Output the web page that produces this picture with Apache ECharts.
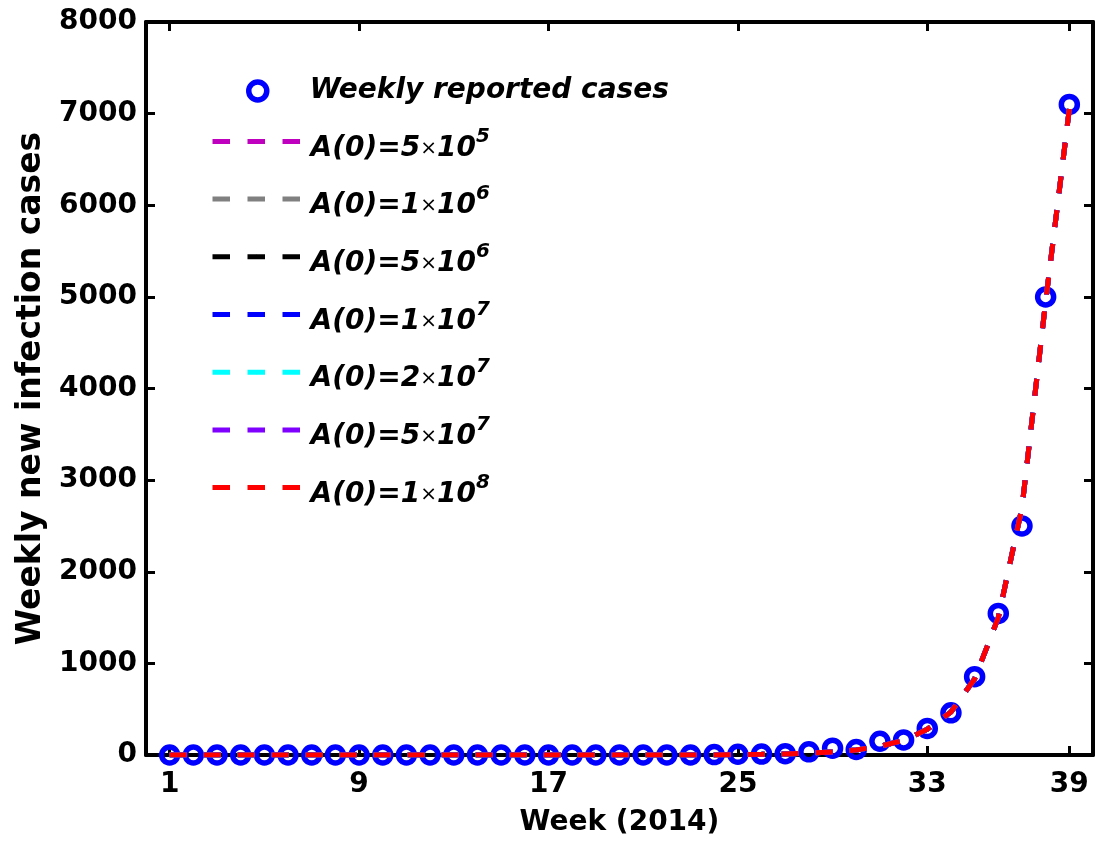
<!DOCTYPE html>
<html><head><meta charset="utf-8">
<script src="https://cdn.jsdelivr.net/npm/echarts@6/dist/echarts.min.js"></script>
<style>html,body{margin:0;padding:0;background:#fff}#c{width:1100px;height:841px}</style>
</head><body><div id="c"></div>
<script>
const weeks = [1,2,3,4,5,6,7,8,9,10,11,12,13,14,15,16,17,18,19,20,21,22,23,24,25,26,27,28,29,30,31,32,33,34,35,36,37,38,39];
const reportedCases = [0,0,0,0,0,0,0,0,0,0,0,0,0,0,0,0,0,0,0,0,0,0,0,5,8,10,15,35,75,60,150,165,290,460,855,1545,2500,5000,7100];
const modelFit = [0,0,0,0,0,0,0,0,0,0,0,0,0,0,0,0,0,0,0,0,0,0,0,0,5,8,12,20,32,55,95,160,280,470,830,1500,2700,4950,7050];
const modelMantissa = ['5','1','5','1','2','5','1'];
const modelExponent = ['5','6','6','7','7','7','8'];
const modelColors = ['#BF00BF','#808080','#000000','#0000FF','#00FFFF','#7F00FF','#FF0000'];
const supDigits = {'5':'\u2075','6':'\u2076','7':'\u2077','8':'\u2078'};
const modelNames = modelMantissa.map((m,i)=>'A(0)='+m+'\u00d710'+supDigits[modelExponent[i]]);
const xTickValues = [1,9,17,25,33,39];
const reportedName = 'Weekly reported cases';

const FONT = 'DejaVu Sans';
const chart = echarts.init(document.getElementById('c'), null, {renderer:'canvas'});

const axisCommonX = {type:'value', min:0, max:40, splitLine:{show:false}};
const axisCommonY = {type:'value', min:0, max:8000, interval:1000, splitLine:{show:false}};

const series = [{
  name: reportedName, type:'scatter', symbol:'circle', symbolSize:16,
  itemStyle:{color:'rgba(0,0,0,0)', borderColor:'#0000FF', borderWidth:5.5, opacity:1},
  data: weeks.map((w,i)=>[w, reportedCases[i]]), z:2
}];
modelNames.forEach((n,i)=>{
  series.push({
    name:n, type:'line', symbol:'none', showSymbol:false,
    lineStyle:{color:modelColors[i], width:5, type:[17,17]},
    itemStyle:{color:modelColors[i]},
    data: weeks.map((w,k)=>[w, modelFit[k]]), z:3+i
  });
});

chart.setOption({
  animation:false,
  backgroundColor:'#fff',
  grid:{left:146, right:7, top:22, bottom:86, containLabel:false, outerBoundsMode:'none'},
  xAxis:[
    Object.assign({}, axisCommonX, {
      position:'bottom',
      axisLine:{show:true, onZero:false, lineStyle:{color:'#000', width:4}},
      axisTick:{show:true, inside:true, length:9, customValues:xTickValues, lineStyle:{color:'#000', width:3}},
      axisLabel:{customValues:xTickValues, margin:16, color:'#000', fontFamily:FONT, fontWeight:'bold', fontSize:28},
      name:'Week (2014)', nameLocation:'middle', nameGap:54,
      nameTextStyle:{color:'#000', fontFamily:FONT, fontWeight:'bold', fontSize:28}
    }),
    Object.assign({}, axisCommonX, {
      position:'top',
      axisLine:{show:true, onZero:false, lineStyle:{color:'#000', width:4}},
      axisTick:{show:true, inside:true, length:9, customValues:xTickValues, lineStyle:{color:'#000', width:3}},
      axisLabel:{show:false}
    })
  ],
  yAxis:[
    Object.assign({}, axisCommonY, {
      position:'left',
      axisLine:{show:true, onZero:false, lineStyle:{color:'#000', width:4}},
      axisTick:{show:true, inside:true, length:9, lineStyle:{color:'#000', width:3}},
      axisLabel:{margin:9, color:'#000', fontFamily:FONT, fontWeight:'bold', fontSize:28, formatter:function(v){return String(v);}},
      name:'Weekly new infection cases', nameLocation:'middle', nameGap:94,
      nameTextStyle:{color:'#000', fontFamily:FONT, fontWeight:'bold', fontSize:33}
    }),
    Object.assign({}, axisCommonY, {
      position:'right',
      axisLine:{show:true, onZero:false, lineStyle:{color:'#000', width:4}},
      axisTick:{show:true, inside:true, length:9, lineStyle:{color:'#000', width:3}},
      axisLabel:{show:false}
    })
  ],
  legend:[
    {
      data:[reportedName], orient:'vertical', left:246, top:71, padding:0,
      itemWidth:18, itemHeight:18,
      itemStyle:{color:'rgba(0,0,0,0)', borderColor:'#0000FF', borderWidth:5.5, opacity:1},
      textStyle:{color:'#000', fontFamily:FONT, fontWeight:'bold', fontStyle:'italic', fontSize:28, lineHeight:40, padding:[0,0,0,38]},
      selectedMode:false
    },
    {
      data:modelNames, orient:'vertical', left:210, top:126.4, padding:0,
      itemWidth:88, itemHeight:5, itemGap:21.7,
      lineStyle:{width:5, type:[17.5,17.5]},
      textStyle:{
        color:'#000', padding:[14,0,0,5],
        rich:{
          m:{color:'#000', fontFamily:FONT, fontWeight:'bold', fontStyle:'italic', fontSize:28, lineHeight:44},
          x:{color:'#000', fontFamily:FONT, fontWeight:'normal', fontSize:20, lineHeight:44},
          s:{color:'#000', fontFamily:FONT, fontWeight:'bold', fontStyle:'italic', fontSize:20, lineHeight:10, verticalAlign:'top'}
        }
      },
      formatter:function(name){
        const i = modelNames.indexOf(name);
        return '{m|A(0)=' + modelMantissa[i] + '}{x|\u00d7}{m|10}{s|' + modelExponent[i] + '}';
      },
      selectedMode:false
    }
  ],
  series: series
});
</script></body></html>
